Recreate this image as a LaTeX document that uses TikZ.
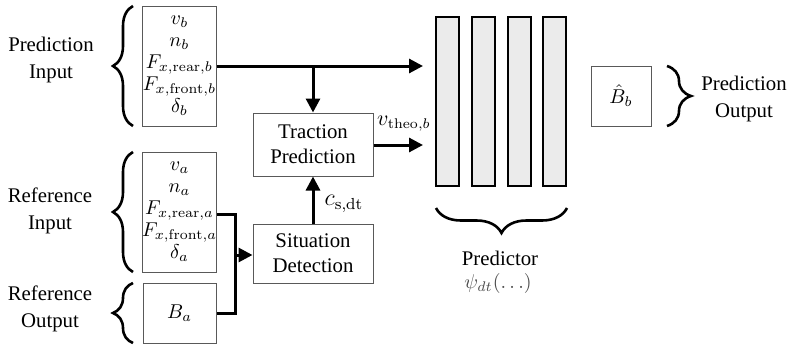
\documentclass[tikz,border=0pt]{standalone}
\usepackage[no-math]{fontspec}
\setmainfont{Liberation Serif}
\usetikzlibrary{decorations.pathreplacing,arrows.meta}

\begin{document}
\begin{tikzpicture}[x=0.5pt,y=-0.5pt,
  box/.style={draw=black!65,line width=0.5pt,inner sep=0pt,align=center,
    font=\fontsize{10}{11}\selectfont},
  block/.style={draw=black!65,line width=0.5pt,inner sep=0pt,align=center,
    font=\fontsize{10.4}{12.5}\selectfont},
  bar/.style={draw=black,line width=1pt,fill=black!8,minimum width=11.5pt,
    minimum height=84.5pt,inner sep=0pt},
  conn/.style={line width=1.5pt,-{Triangle[length=7pt,width=7pt]}},
  wire/.style={line width=1.5pt},
  lbl/.style={align=center,font=\fontsize{10.4}{13.5}\selectfont},
  brc/.style={decorate,decoration={brace,amplitude=#1},line width=1.3pt},
  brc/.default=10pt,
]
\useasboundingbox (0,0) rectangle (793,348);

% input and output boxes
\node[box,minimum width=36.5pt,minimum height=60pt] (pin) at (179.5,66)
  {$v_b$\\ $n_b$\\ $F_{x,\mathrm{rear},b}$\\ $F_{x,\mathrm{front},b}$\\ $\delta_b$};
\node[box,minimum width=36.5pt,minimum height=60pt] (rin) at (179.5,212)
  {$v_a$\\ $n_a$\\ $F_{x,\mathrm{rear},a}$\\ $F_{x,\mathrm{front},a}$\\ $\delta_a$};
\node[box,minimum width=36.5pt,minimum height=30pt] (rout) at (179.5,313) {$B_a$};
\node[box,minimum width=30pt,minimum height=30pt] (pout) at (621,96) {$\hat{B}_b$};

% processing blocks
\node[block,minimum width=60pt,minimum height=31.5pt] (trac) at (313,144.5)
  {Traction\\Prediction};
\node[block,minimum width=60pt,minimum height=29.5pt] (sit) at (313,253.5)
  {Situation\\Detection};

% predictor layers
\node[bar] (l1) at (447,101.5) {};
\node[bar] (l2) at (483.5,101.5) {};
\node[bar] (l3) at (519.5,101.5) {};
\node[bar] (l4) at (554.5,101.5) {};

% group labels
\node[lbl] (tpin) at (51,60) {Prediction\\Input};
\node[lbl] (trin) at (50,211) {Reference\\Input};
\node[lbl] (trout) at (50,309) {Reference\\Output};
\node[lbl] (tpout) at (744,99) {Prediction\\Output};
\node[lbl] (tpred) at (500,258) {Predictor};
\node[lbl,text=black!70] (tpsi) at (498,283) {$\psi_{dt}(\ldots)$};

% signal labels
\node[font=\fontsize{10.6}{12}\selectfont,inner sep=0pt] (tv) at (404,124) {$v_{\mathrm{theo},b}$};
\node[font=\fontsize{11.5}{13}\selectfont,inner sep=0pt] (tc) at (344,204) {$c_{\mathrm{s},\mathrm{dt}}$};

% braces
\draw[brc] (133,126) -- (133,6);
\draw[brc] (133,272) -- (133,152);
\draw[brc] (133,343) -- (133,283);
\draw[brc=12pt] (667,66) -- (667,126);
\draw[brc=12.5pt] (567,208) -- (436,208);

% connectors
\coordinate (pend) at (423,66);
\coordinate (split) at (313,66);
\coordinate (vend) at (423,145);
\coordinate (join) at (235,214);
\coordinate (jbot) at (235,313);
\coordinate (jmid) at (235,255);

\draw[conn] (pin.east |- pend) -- (pend);
\draw[conn] (split) -- (trac.north);
\draw[conn] (trac.east |- vend) -- (vend);
\draw[conn] (sit.north) -- (trac.south);
\draw[wire] (rin.east |- join) -- (join) -- (jbot) -- (rout.east |- jbot);
\draw[conn] (jmid) -- (sit.west |- jmid);
\end{tikzpicture}
\end{document}
